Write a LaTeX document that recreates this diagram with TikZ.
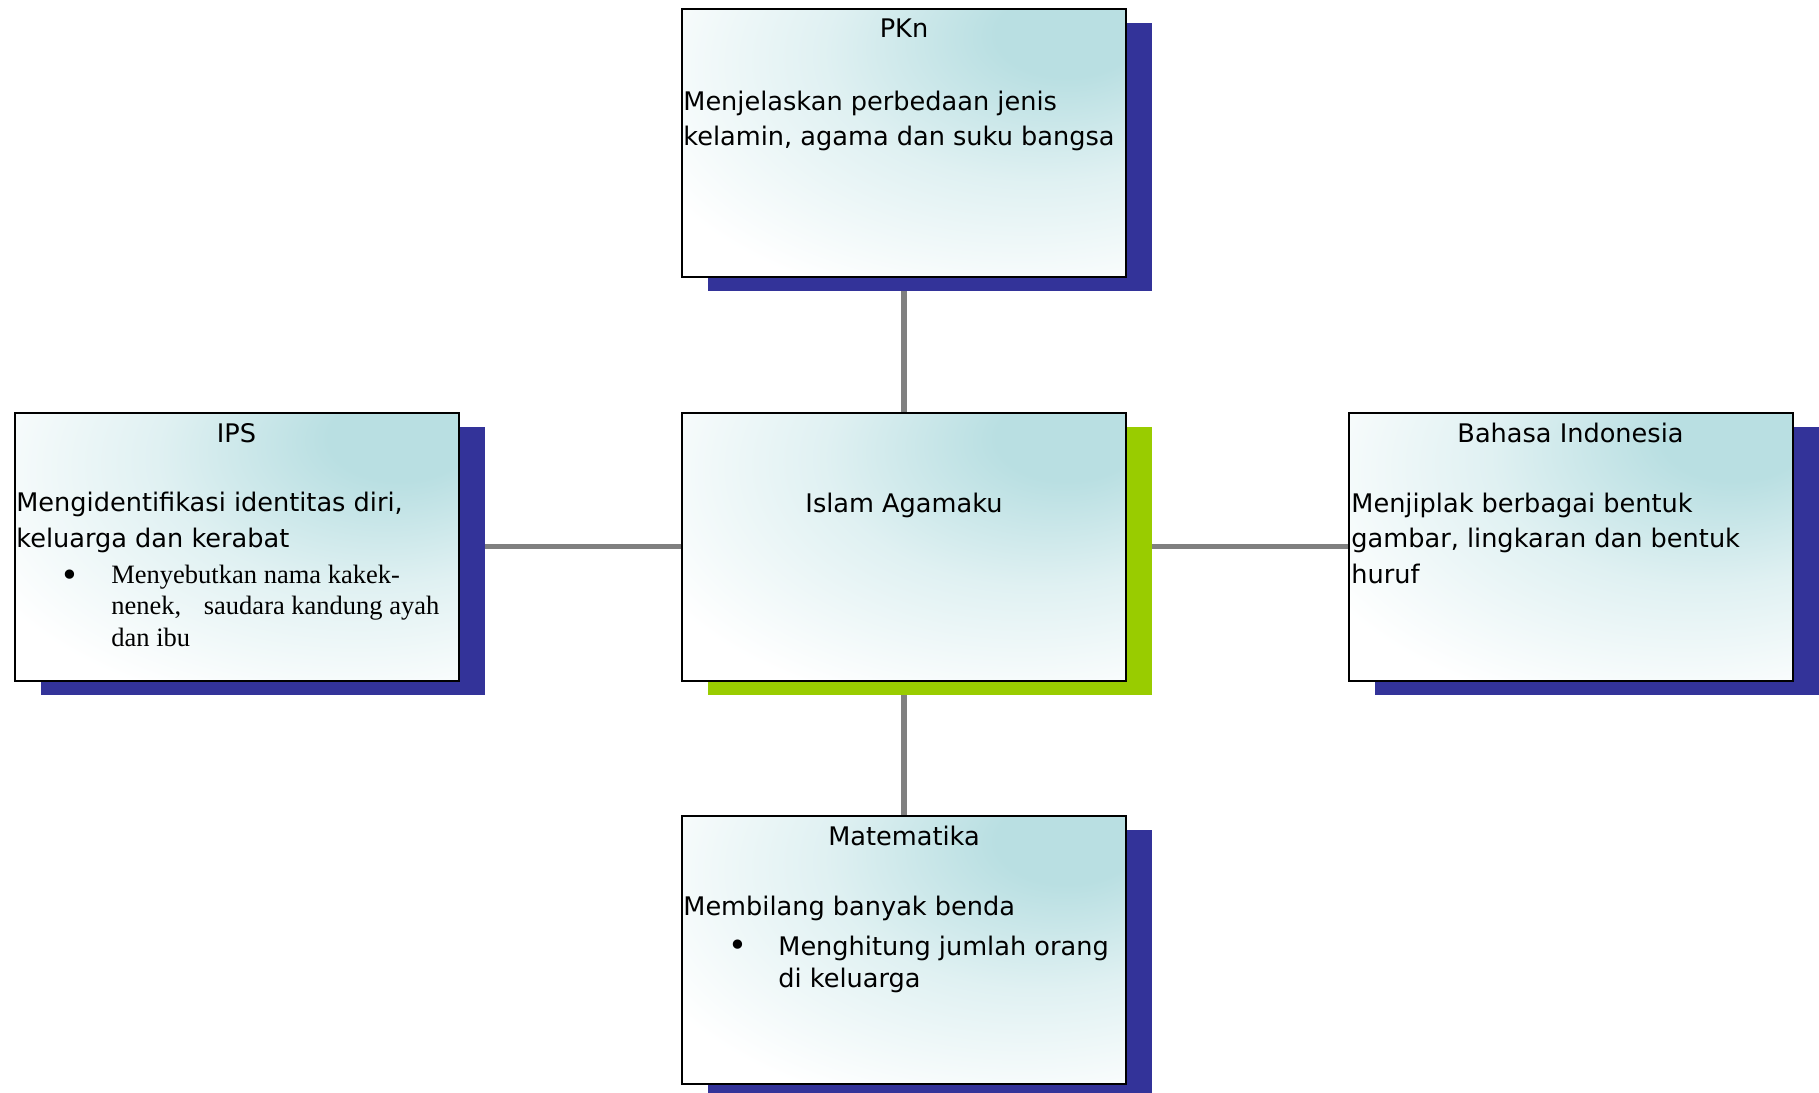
\documentclass[tikz,border=0pt]{standalone}
\usepackage{fontspec}
\setmainfont{DejaVu Sans}
\newfontfamily\serifb{Liberation Serif}
\usetikzlibrary{shadows,backgrounds}
\definecolor{tealc}{HTML}{B9DFE2}
\colorlet{tealm}{tealc!45!white}
\definecolor{navyc}{HTML}{333399}
\definecolor{greenc}{HTML}{99CC00}
\definecolor{grayc}{HTML}{808080}
\pgfdeclareradialshading{boxshade}{\pgfpoint{20bp}{22bp}}{color(0bp)=(tealc); color(8bp)=(tealc); color(24bp)=(tealm); color(44bp)=(white); color(100bp)=(white)}
\begin{document}
\begin{tikzpicture}[x=0.5pt,y=-0.5pt,
  box/.style={draw=black, line width=1pt, shade, shading=boxshade, minimum width=222pt, minimum height=134pt, inner sep=0pt},
  navyshadow/.style={general shadow={fill=navyc, shadow xshift=13pt, shadow yshift=-7pt}},
  greenshadow/.style={general shadow={fill=greenc, shadow xshift=13pt, shadow yshift=-7pt}},
  link/.style={draw=grayc, line width=2.8pt},
  txt/.style={inner sep=0pt, font=\fontsize{12.8pt}{15pt}\selectfont, anchor=base west},
  ttl/.style={txt, anchor=base},
  bul/.style={inner sep=0pt, font=\fontsize{16pt}{16pt}\selectfont, anchor=base},
  stxt/.style={inner sep=0pt, font=\serifb\fontsize{13.25pt}{15.5pt}\selectfont, anchor=base west},
]
\useasboundingbox (0,0) rectangle (1819,1092);

\node[box, navyshadow] (pkn) at (904,142.5) {};
\node[box, navyshadow] (ips) at (236.5,546.5) {};
\node[box, greenshadow] (hub) at (904,546.5) {};
\node[box, navyshadow] (bi) at (1570.5,546.5) {};
\node[box, navyshadow] (mat) at (904,949.5) {};

\begin{scope}[on background layer]
\fill[white] (0,0) rectangle (1819,1092);
\draw[link] (pkn.center) -- (hub.center);
\draw[link] (ips.center) -- (hub.center);
\draw[link] (hub.center) -- (bi.center);
\draw[link] (hub.center) -- (mat.center);
\end{scope}

% PKn
\node[ttl] (pknT) at (904,37) {PKn};
\node[txt] (pknA) at (683,110) {Menjelaskan perbedaan jenis};
\node[txt] (pknB) at (683,145) {kelamin, agama dan suku bangsa};

% IPS
\node[ttl] (ipsT) at (236.5,442) {IPS};
\node[txt] (ipsA) at (16,511) {Mengidentifikasi identitas diri,};
\node[txt] (ipsB) at (16,547) {keluarga dan kerabat};
\node[bul] (ipsBul) at (70,586) {•};
\node[stxt] (ipsC) at (111,583) {Menyebutkan nama kakek-};
\node[stxt] (ipsD) at (111,614) {nenek,\hspace{8pt} saudara kandung ayah};
\node[stxt] (ipsE) at (111,646) {dan ibu};

% centre
\node[ttl] (hubT) at (904,512) {Islam Agamaku};

% Bahasa Indonesia
\node[ttl] (biT) at (1570.5,442) {Bahasa Indonesia};
\node[txt] (biA) at (1351,512) {Menjiplak berbagai bentuk};
\node[txt] (biB) at (1351,547.5) {gambar, lingkaran dan bentuk};
\node[txt] (biC) at (1351,583) {huruf};

% Matematika
\node[ttl] (matT) at (904,845) {Matematika};
\node[txt] (matA) at (683,915) {Membilang banyak benda};
\node[bul] (matBul) at (738,956) {•};
\node[txt] (matB) at (778,955) {Menghitung jumlah orang};
\node[txt] (matC) at (778,987) {di keluarga};
\end{tikzpicture}
\end{document}
